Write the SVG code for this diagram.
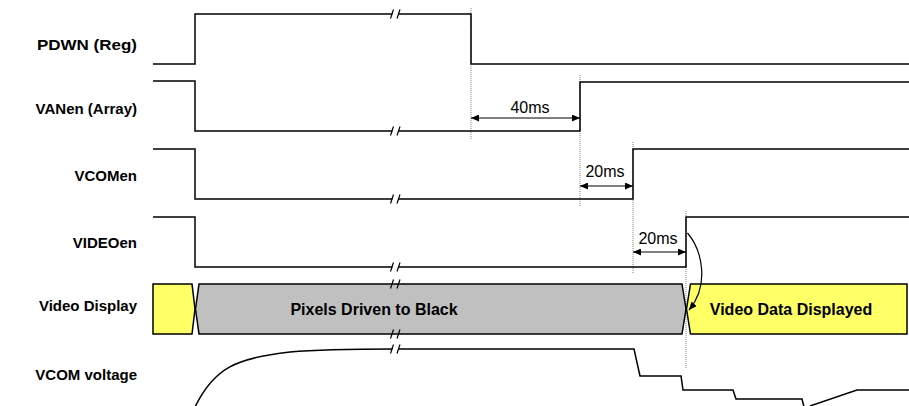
<svg xmlns="http://www.w3.org/2000/svg" width="909" height="406" viewBox="0 0 909 406">
<style>
.sig{fill:none;stroke:#000;stroke-width:1.5}
.lbl{font-family:"Liberation Sans",Arial,sans-serif;font-weight:bold;font-size:15px;text-anchor:end;fill:#000}
.in{font-family:"Liberation Sans",Arial,sans-serif;font-weight:bold;font-size:16px;text-anchor:middle;fill:#000}
.dim{font-family:"Liberation Sans",Arial,sans-serif;font-size:16px;text-anchor:middle;fill:#000}
.dot{stroke:#808080;stroke-width:1;stroke-dasharray:1,1;fill:none}
.arr{stroke:#000;stroke-width:1.2;fill:none}
.sl{stroke:#000;stroke-width:1.2}
</style>
<defs>
<marker id="ah" viewBox="0 0 8 7" refX="8" refY="3.5" markerWidth="8" markerHeight="7" markerUnits="userSpaceOnUse" orient="auto-start-reverse">
<path d="M0,0 L8,3.5 L0,7 z" fill="#000"/>
</marker>
<g id="brk">
<polygon points="-4,2 -3,-2 3,-2 2,2" fill="#fff"/>
<line class="sl" x1="-5.5" y1="4.5" x2="-2.5" y2="-4.5"/>
<line class="sl" x1="1" y1="4.5" x2="4" y2="-4.5"/>
</g>
<g id="brk2">
<line class="sl" x1="-5.5" y1="4.5" x2="-2.5" y2="-4.5"/>
<line class="sl" x1="1" y1="4.5" x2="4" y2="-4.5"/>
</g>
</defs>
<rect width="909" height="406" fill="#fff"/>

<g id="labels">
<text class="lbl" x="137" y="50" textLength="100" lengthAdjust="spacingAndGlyphs">PDWN (Reg)</text>
<text class="lbl" x="137" y="114">VANen (Array)</text>
<text class="lbl" x="137" y="181">VCOMen</text>
<text class="lbl" x="137" y="248">VIDEOen</text>
<text class="lbl" x="137" y="311">Video Display</text>
<text class="lbl" x="137" y="380">VCOM voltage</text>
</g>

<g id="guides">
<line class="dot" x1="471" y1="8" x2="471" y2="139"/>
<line class="dot" x1="580" y1="75" x2="580" y2="206"/>
<line class="dot" x1="633" y1="142" x2="633" y2="273"/>
<line class="dot" x1="686" y1="211" x2="686" y2="368"/>
</g>

<g id="pdwn">
<path class="sig" d="M153,64 H195 V14 H471 V64 H909"/>
<use href="#brk" x="396" y="14"/>
</g>
<g id="vanen">
<path class="sig" d="M153,81 H195 V131 H580 V82 H909"/>
<use href="#brk" x="396" y="131"/>
</g>
<g id="vcomen">
<path class="sig" d="M153,149 H195 V199 H633 V149 H909"/>
<use href="#brk" x="396" y="199"/>
</g>
<g id="videoen">
<path class="sig" d="M153,217 H195 V267 H686 V217 H909"/>
<use href="#brk" x="396" y="267"/>
</g>

<g id="video-display">
<polygon points="153,284 192,284 195,309 192,334 153,334" fill="#FFFF66" stroke="#000" stroke-width="1.5"/>
<polygon points="199,284 682,284 686,309 682,334 199,334 195.5,309" fill="#C0C0C0" stroke="#000" stroke-width="1.5"/>
<polygon points="690.5,284 907,284 907,334 690.5,334 686.5,309" fill="#FFFF66" stroke="#000" stroke-width="1.5"/>
<use href="#brk2" x="396" y="284"/>
<use href="#brk2" x="396" y="334"/>
<text class="in" x="374" y="315">Pixels Driven to Black</text>
<text class="in" x="791" y="315">Video Data Displayed</text>
</g>

<g id="vcom-voltage">
<path class="sig" d="M195,407 C214,368 236,358 290,352 C312,350 330,349 395,349 L634,349 L640,376 L681,376 L683,390 L733,390 L736,399 L802,399 L804,407"/>
<path class="sig" d="M810,406 L857,390 L909,390"/>
<use href="#brk" x="396" y="349"/>
</g>

<g id="connectors">
<line class="arr" x1="471" y1="118" x2="580" y2="118" marker-start="url(#ah)" marker-end="url(#ah)"/>
<text class="dim" x="530" y="113">40ms</text>
<line class="arr" x1="580" y1="186" x2="633" y2="186" marker-start="url(#ah)" marker-end="url(#ah)"/>
<text class="dim" x="605" y="177">20ms</text>
<line class="arr" x1="633" y1="252" x2="686" y2="252" marker-start="url(#ah)" marker-end="url(#ah)"/>
<text class="dim" x="658" y="244">20ms</text>
<path class="arr" d="M687.5,233 C702,250 710,285 689,310" marker-end="url(#ah)"/>
</g>
</svg>
